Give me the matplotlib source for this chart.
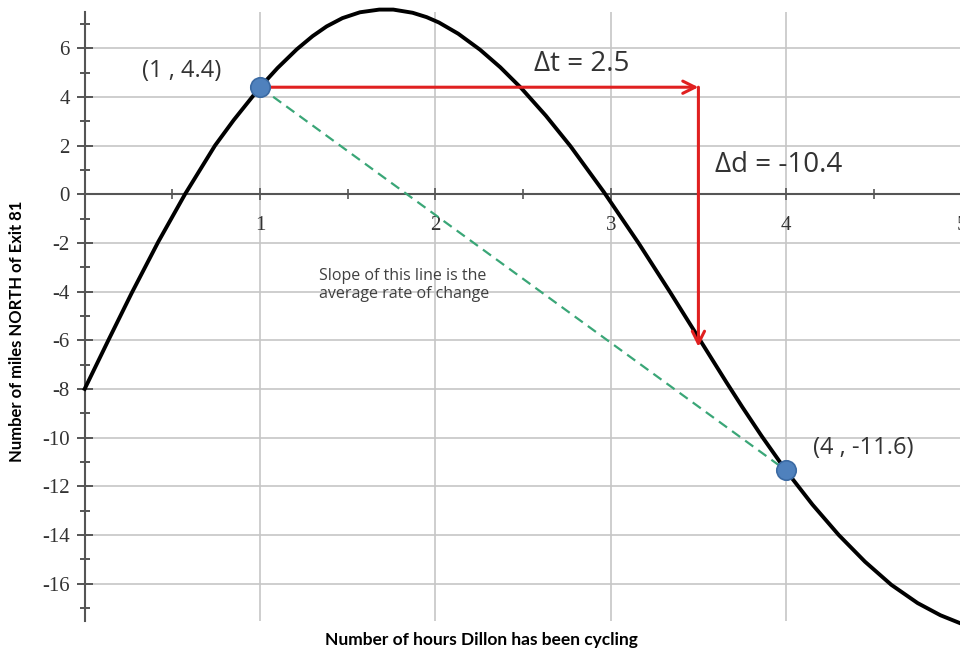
import matplotlib
matplotlib.use("Agg")
import matplotlib.pyplot as plt
from matplotlib.ticker import MultipleLocator

plt.rcParams["axes.unicode_minus"] = False

# distance curve (hours, miles north of Exit 81)
hours = [0.0, 0.135, 0.268, 0.42, 0.572, 0.743, 0.85, 0.96, 1.0, 1.1, 1.21, 1.3, 1.38,
         1.47, 1.57, 1.68, 1.76, 1.87, 1.95, 2.02, 2.13, 2.255, 2.37, 2.49, 2.63, 2.77,
         2.96, 3.16, 3.34, 3.49, 3.66, 3.75, 3.86, 4.0, 4.15, 4.3, 4.45, 4.6, 4.75, 4.88, 4.99]
miles = [-8.0, -6.0, -4.06, -1.95, 0.0, 2.0, 3.05, 4.04, 4.4, 5.19, 5.96, 6.5, 6.9,
         7.24, 7.48, 7.59, 7.59, 7.46, 7.28, 7.06, 6.6, 5.94, 5.22, 4.36, 3.23, 1.98,
         0.1, -2.02, -4.04, -5.77, -7.73, -8.74, -9.93, -11.36, -12.75, -14.0, -15.1,
         -16.05, -16.8, -17.3, -17.62]

# the two marked points
pt_hours = [1, 4]
pt_miles = [4.4, -11.35]
pt_labels = ["(1 , 4.4)", "(4 , -11.6)"]

# delta arrows
dt_end = 3.5
dd_end = -6.27

x_ticks = [1, 2, 3, 4, 5]

fig = plt.figure(figsize=(9.6, 6.51), dpi=100)
ax = fig.add_axes([0.0882, 0.0456, 0.9133, 0.9363])
ax.set_xlim(0, 5)
ax.set_ylim(-17.55, 7.5)

# axes look like the spreadsheet chart: y axis at x=0, x axis at y=0
for s in ["top", "right"]:
    ax.spines[s].set_visible(False)
ax.spines["bottom"].set_position(("data", 0))
for s in ["left", "bottom"]:
    ax.spines[s].set_color("#555555")
    ax.spines[s].set_linewidth(1.5)

ax.set_xticks(x_ticks)
ax.xaxis.set_minor_locator(MultipleLocator(0.5))
ax.yaxis.set_major_locator(MultipleLocator(2))
ax.yaxis.set_minor_locator(MultipleLocator(1))
ax.tick_params(axis="y", which="major", direction="inout", length=11.5, width=1.4,
               color="#555555", labelsize=15, pad=5, labelcolor="#333333",
               labelfontfamily="Liberation Serif")
ax.tick_params(axis="y", which="minor", direction="inout", length=6.5, width=1.4, color="#555555")
ax.tick_params(axis="x", which="major", direction="inout", length=9, width=1.2,
               color="#555555", labelsize=15, pad=11, labelcolor="#333333",
               labelfontfamily="Liberation Serif")
ax.tick_params(axis="x", which="minor", direction="inout", length=6.5, width=1.2, color="#555555")

ax.grid(True, which="major", color="#c6c6c6", lw=1.2)
ax.set_axisbelow(True)

# curve
ax.plot(hours, miles, color="black", lw=2.8, clip_on=False, zorder=3)

# secant line
ax.plot(pt_hours, pt_miles, color="#3aa677", lw=1.6, ls=(0, (4.5, 2.8)), zorder=4)

# delta t and delta d arrows
ax.annotate("", xy=(dt_end, pt_miles[0]), xytext=(pt_hours[0], pt_miles[0]),
            arrowprops=dict(arrowstyle="->", color="#e02020", lw=2.2,
                            mutation_scale=22, shrinkA=0, shrinkB=0), zorder=5)
ax.annotate("", xy=(dt_end, dd_end), xytext=(dt_end, pt_miles[0]),
            arrowprops=dict(arrowstyle="->", color="#e02020", lw=2.2,
                            mutation_scale=22, shrinkA=0, shrinkB=0), zorder=5)

# points
ax.plot(pt_hours, pt_miles, "o", color="#4f81bd", mec="#3b6aa3", mew=1.2, ms=14, zorder=6)

# text
txt = dict(family="Open Sans", color="#333333", ha="center", va="center")
fig.text(181.5 / 960, 1 - 71 / 651, pt_labels[0], fontsize=17, **txt)
fig.text(863 / 960, 1 - 448 / 651, pt_labels[1], fontsize=17, **txt)
fig.text(582 / 960, 1 - 64 / 651, "\u0394t = 2.5", fontsize=20, **txt)
fig.text(779 / 960, 1 - 165 / 651, "\u0394d = -10.4", fontsize=20, **txt)
fig.text(319 / 960, 1 - 285 / 651, "Slope of this line is the\naverage rate of change",
         fontsize=11.5, family="Open Sans", color="#404040", ha="left", va="center",
         linespacing=1.2)

fig.text(481 / 960, 1 - 640 / 651, "Number of hours Dillon has been cycling",
         fontsize=12.5, family="Lato", fontweight="bold", ha="center", va="center")
fig.text(17 / 960, 1 - 331 / 651, "Number of miles NORTH of Exit 81",
         fontsize=12, family="Lato", fontweight="bold", ha="center", va="center",
         rotation=90)

fig.savefig("out.png", dpi=100, facecolor="white")
